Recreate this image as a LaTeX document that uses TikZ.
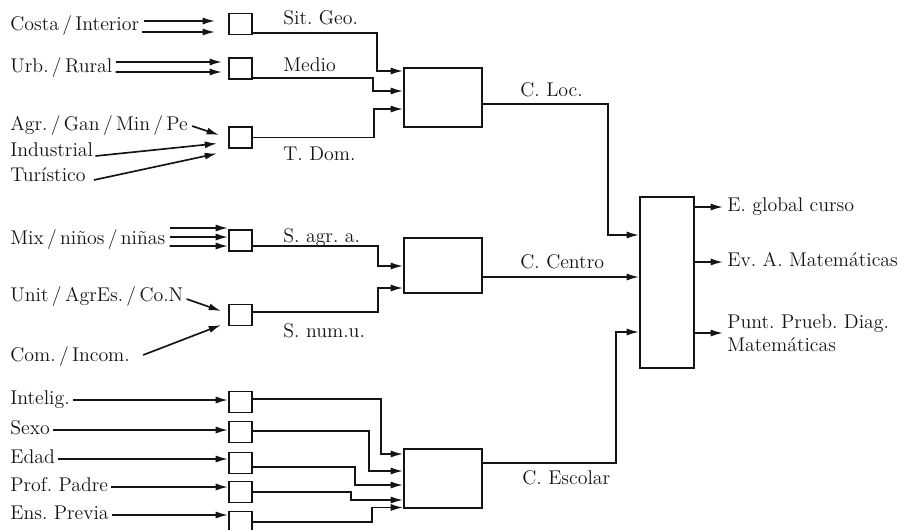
\documentclass[tikz,border=0pt]{standalone}
\usepackage{tikz}
\usetikzlibrary{calc,arrows.meta,positioning}
\definecolor{diagInk}{RGB}{20,20,20}

\tikzset{
  lbl/.style={inner sep=0pt, anchor=west, text height=1.6ex, text depth=0.4ex, text=diagInk},
  sbox/.style={draw=diagInk, line width=1.1pt, minimum width=0.46cm, minimum height=0.42cm, inner sep=0pt},
  mbox/.style={draw=diagInk, line width=1.1pt, minimum width=1.56cm, minimum height=1.18cm, inner sep=0pt},
  arr/.style={draw=diagInk, line width=0.95pt, -{Latex[length=7pt,width=4pt]}},
}

\begin{document}
\begin{tikzpicture}[x=0.02cm,y=-0.02cm, font=\fontsize{11.3}{13}\selectfont]
\useasboundingbox (0,0) rectangle (906,529);

% =========================
% input labels
% =========================
\node[lbl] (costa) at (10,26)  {Costa\,/\,Interior};
\node[lbl] (urb)   at (10,68)  {Urb.\,/\,Rural};
\node[lbl] (agr)   at (10,126) {Agr.\,/\,Gan\,/\,Min\,/\,Pe};
\node[lbl] (indus) at (10,152) {Industrial};
\node[lbl] (turis) at (10,177) {Turístico};
\node[lbl] (mix)   at (10,240) {Mix\,/\,niños\,/\,niñas};
\node[lbl] (unit)  at (10,297) {Unit\,/\,AgrEs.\,/\,Co.N};
\node[lbl] (com)   at (10,357) {Com.\,/\,Incom.};
\node[lbl] (intel) at (10,400) {Intelig.};
\node[lbl] (sexo)  at (10,430) {Sexo};
\node[lbl] (edad)  at (10,459) {Edad};
\node[lbl] (prof)  at (10,487) {Prof.\ Padre};
\node[lbl] (ens)   at (10,515) {Ens.\ Previa};

% =========================
% small boxes
% =========================
\node[sbox] (bsit)  at (240.5,24)  {};
\node[sbox] (bmed)  at (240.5,68.5) {};
\node[sbox] (btdom) at (240.5,137.5) {};
\node[sbox] (bsagr) at (240.5,240.5) {};
\node[sbox] (bsnum) at (240.5,315) {};
\node[sbox] (bint)  at (240.5,402) {};
\node[sbox] (bsex)  at (240.5,432) {};
\node[sbox] (beda)  at (240.5,463) {};
\node[sbox] (bpro)  at (240.5,492) {};
\node[sbox] (bens)  at (240.5,522) {};

% =========================
% middle and final boxes
% =========================
\node[mbox] (cloc) at (443,97.5) {};
\node[mbox, minimum height=1.1cm] (ccen) at (443,265.5) {};
\node[mbox] (cesc) at (443,478.5) {};
\node[draw=diagInk, line width=1.1pt, minimum width=1.08cm, minimum height=3.42cm, inner sep=0pt]
  (eval) at (667,282.5) {};

% =========================
% line labels and outputs
% =========================
\node[lbl] (lsit)  at (283,20)  {Sit.\ Geo.};
\node[lbl] (lmed)  at (283,67)  {Medio};
\node[lbl] (ltdom) at (283,156) {T.\ Dom.};
\node[lbl] (lsagr) at (283,238) {S.\ agr.\ a.};
\node[lbl] (lsnum) at (283,333) {S.\ num.u.};
\node[lbl] (lloc)  at (520,92)  {C.\ Loc.};
\node[lbl] (lcen)  at (520,264) {C.\ Centro};
\node[lbl] (lesc)  at (522,480) {C.\ Escolar};

\node[lbl] (oglob) at (727,207) {E.\ global curso};
\node[lbl] (oev)   at (727,262) {Ev.\ A.\ Matemáticas};
\node[lbl, align=left, text height=, text depth=] (opunt) at (727,333)
  {Punt.\ Prueb.\ Diag.\\Matemáticas};

% =========================
% inputs to small boxes
% =========================
\draw[arr] ($(costa.east)+(4,-5)$) -- ($(bsit.west)+(-13,-3)$);
\draw[arr] ($(costa.east)+(2,6)$) -- ($(bsit.west)+(-13,8)$);
\draw[arr] ($(urb.east)+(3,-6)$) -- ($(bmed.west)+(-6,-6.5)$);
\draw[arr] ($(urb.east)+(3,4)$) -- ($(bmed.west)+(-6,3.5)$);
\draw[arr] ($(agr.east)+(4,0)$) -- ($(btdom.west)+(-9,-2.5)$);
\draw[arr] ($(indus.east)+(2,4)$) -- ($(btdom.west)+(-11,6)$);
\draw[arr] ($(turis.east)+(8,3)$) -- ($(btdom.west)+(-11,16)$);
\foreach \d in {-12,-3,6}
  \draw[arr] ($(mix.east)+(4,\d)$) -- ($(bsagr.west)+(0,\d-0.5)$);
\draw[arr] ($(unit.east)+(3,2)$) -- ($(bsnum.west)+(-7,-4)$);
\draw[arr] ($(com.east)+(13,-2)$) -- ($(bsnum.west)+(-7,10)$);
\foreach \a/\b in {intel/bint,sexo/bsex,edad/beda,prof/bpro,ens/bens}
  \draw[arr] ($(\a.east)+(3,0)$) -- (\a.east -| \b.west);

% =========================
% small boxes to middle boxes
% =========================
\draw[arr] ($(bsit.east)+(0,9)$) -| ($(cloc.west)+(-26,-26.5)$) -- ($(cloc.west)+(0,-26.5)$);
\draw[arr] ($(bmed.east)+(0,9.5)$) -| ($(cloc.west)+(-30,-6.5)$) -- ($(cloc.west)+(0,-6.5)$);
\draw[arr] (btdom.east) -| ($(cloc.west)+(-29,11.5)$) -- ($(cloc.west)+(0,11.5)$);

\draw[arr] ($(bsagr.east)+(0,5.5)$) -| ($(ccen.west)+(-25,0.5)$) -- ($(ccen.west)+(0,0.5)$);
\draw[arr] ($(bsnum.east)+(0,-3)$) -| ($(ccen.west)+(-25,22.5)$) -- ($(ccen.west)+(0,22.5)$);

\draw[arr] ($(bint.east)+(0,-3)$) -| ($(cesc.west)+(-22,-24.5)$) -- ($(cesc.west)+(0,-24.5)$);
\draw[arr] ($(bsex.east)+(0,-1)$) -| ($(cesc.west)+(-34,-7.5)$) -- ($(cesc.west)+(0,-7.5)$);
\draw[arr] ($(beda.east)+(0,4)$) -| ($(cesc.west)+(-48,6.5)$) -- ($(cesc.west)+(0,6.5)$);
\draw[arr] (bpro.east) -| ($(cesc.west)+(-52,21.5)$) -- ($(cesc.west)+(0,21.5)$);
\draw[arr] (bens.east) -| ($(cesc.west)+(-31,29)$) -- ($(cesc.west)+(0,29)$);

% =========================
% middle boxes to final box
% =========================
\coordinate (cenout) at ($(ccen.east)+(0,11.5)$);
\draw[arr] ($(cloc.east)+(0,6.5)$) -| ($(eval.west)+(-31,-47.5)$) -- ($(eval.west)+(0,-47.5)$);
\draw[arr] (cenout) -- (cenout -| eval.west);
\draw[arr] ($(cesc.east)+(0,-15.5)$) -| ($(eval.west)+(-23,49.5)$) -- ($(eval.west)+(0,49.5)$);

% outputs
\foreach \o in {oglob,oev,opunt}
  \draw[arr] (eval.east |- \o.west) -- ($(\o.west)+(-4,0)$);

\end{tikzpicture}
\end{document}
